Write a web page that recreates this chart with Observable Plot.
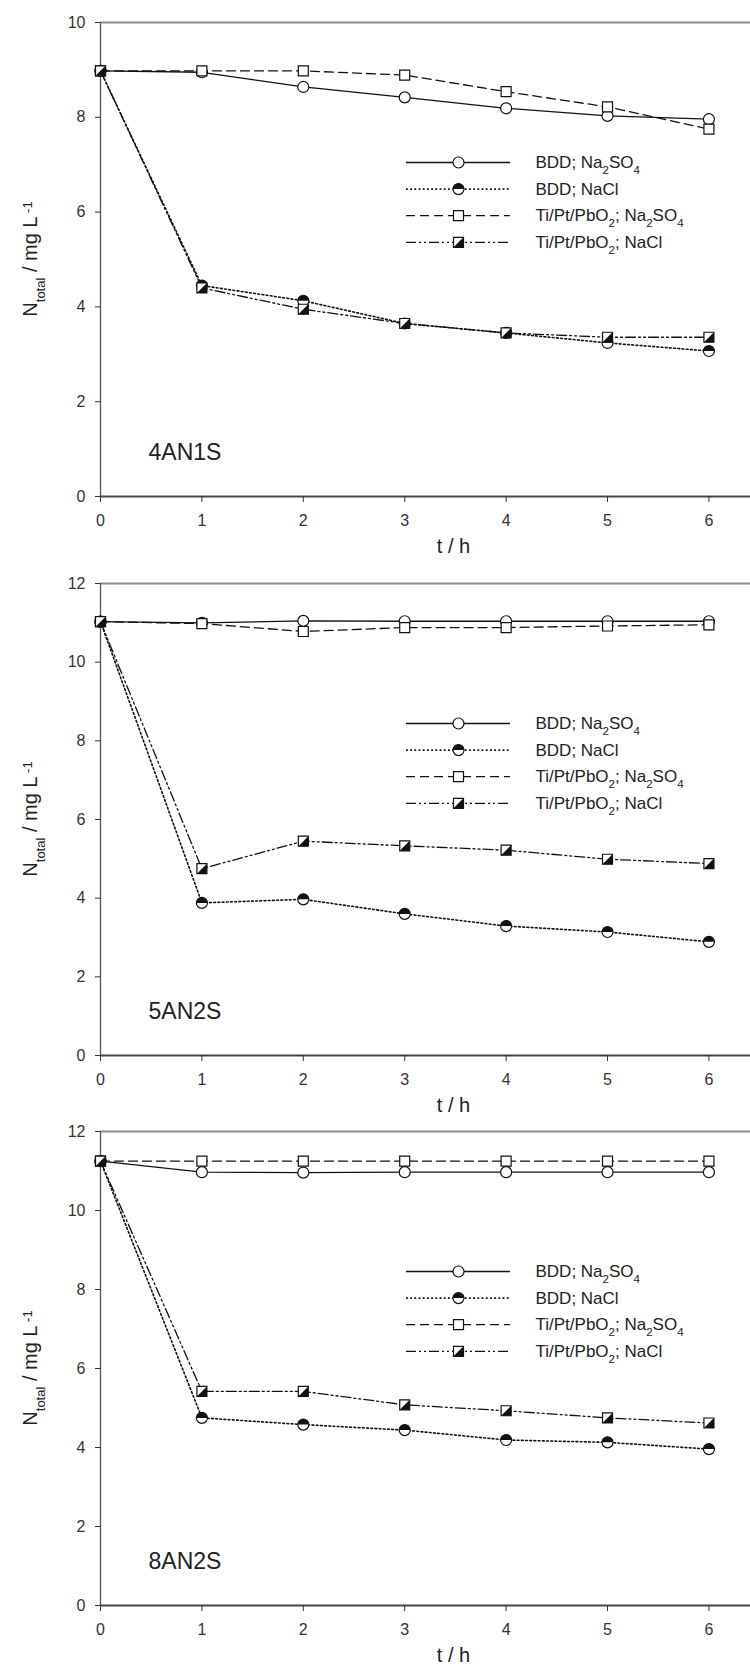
<!DOCTYPE html>
<html><head><meta charset="utf-8">
<script src="https://cdn.jsdelivr.net/npm/d3@7"></script>
<script src="https://cdn.jsdelivr.net/npm/@observablehq/plot@0.6"></script>
<style>
body{margin:0;background:#fff;width:750px;overflow:hidden}
svg{display:block}
</style></head><body><div id="chart"></div>
<script>
// ---- data ----
const time = [0, 1, 2, 3, 4, 5, 6];
const seriesNames = ["BDD; Na2SO4", "BDD; NaCl", "Ti/Pt/PbO2; Na2SO4", "Ti/Pt/PbO2; NaCl"];
const panelLabels = ["4AN1S", "5AN2S", "8AN2S"];
const yMaxes = [10, 12, 12];
const xTicks = [0, 1, 2, 3, 4, 5, 6];
const yTicksP1 = [0, 2, 4, 6, 8, 10];
const yTicksP23 = [0, 2, 4, 6, 8, 10, 12];

// Panel 1: 4AN1S
const p1_bdd_na2so4 = [8.98, 8.95, 8.64, 8.42, 8.19, 8.03, 7.96];
const p1_bdd_nacl   = [8.98, 4.45, 4.13, 3.65, 3.45, 3.24, 3.07];
const p1_ti_na2so4  = [8.98, 8.98, 8.98, 8.89, 8.54, 8.22, 7.75];
const p1_ti_nacl    = [8.98, 4.40, 3.95, 3.65, 3.45, 3.36, 3.36];
// Panel 2: 5AN2S
const p2_bdd_na2so4 = [11.03, 11.00, 11.05, 11.04, 11.04, 11.04, 11.04];
const p2_bdd_nacl   = [11.03, 3.88, 3.97, 3.60, 3.29, 3.14, 2.89];
const p2_ti_na2so4  = [11.03, 10.98, 10.78, 10.88, 10.88, 10.92, 10.95];
const p2_ti_nacl    = [11.03, 4.75, 5.45, 5.33, 5.22, 4.99, 4.88];
// Panel 3: 8AN2S
const p3_bdd_na2so4 = [11.25, 10.97, 10.96, 10.97, 10.97, 10.97, 10.97];
const p3_bdd_nacl   = [11.25, 4.75, 4.58, 4.44, 4.19, 4.13, 3.96];
const p3_ti_na2so4  = [11.25, 11.25, 11.25, 11.25, 11.25, 11.25, 11.25];
const p3_ti_nacl    = [11.25, 5.42, 5.42, 5.08, 4.93, 4.75, 4.62];

const panelSeries = [
  [p1_bdd_na2so4, p1_bdd_nacl, p1_ti_na2so4, p1_ti_nacl],
  [p2_bdd_na2so4, p2_bdd_nacl, p2_ti_na2so4, p2_ti_nacl],
  [p3_bdd_na2so4, p3_bdd_nacl, p3_ti_na2so4, p3_ti_nacl]
];
const panelYTicks = [yTicksP1, yTicksP23, yTicksP23];

// ---- symbols ----
const squareSym = {draw(ctx, size){const h = Math.sqrt(size/Math.PI); ctx.rect(-h, -h, 2*h, 2*h);}};
const halfCircle = {draw(ctx, size){const r = Math.sqrt(size/Math.PI); ctx.moveTo(-r, 0); ctx.arc(0, 0, r, Math.PI, 2*Math.PI); ctx.closePath();}};
const halfSquare = {draw(ctx, size){const h = Math.sqrt(size/Math.PI); ctx.moveTo(h, -h); ctx.lineTo(h, h); ctx.lineTo(-h, h); ctx.closePath();}};

const styles = [
  {dash: null, sym: "circle", r: 5.5, half: null, w: 1.3},
  {dash: "1.8,2.4", sym: "circle", r: 5.5, half: halfCircle, w: 1.6},
  {dash: "9,5", sym: squareSym, r: 5, half: null, w: 1.3},
  {dash: "10,3,2,3,2,3", sym: squareSym, r: 5, half: halfSquare, w: 1.3}
];

const INK = "#111";
const FONT = "'Liberation Sans', Arial, Helvetica, sans-serif";
const X_MAX = 6.41, M_LEFT = 100, WIDTH = 750;
const layouts = [
  {height: 565, marginTop: 22, marginBottom: 69},
  {height: 548, marginTop: 18, marginBottom: 58},
  {height: 559, marginTop: 18, marginBottom: 67}
];

function subify(sel) {
  sel.each(function(){
    const t = this.textContent;
    const el = d3.select(this);
    el.text(null);
    const parts = t.split(/(?<=[A-Za-z])(\d)/);
    parts.forEach((p, k) => {
      if (!p) return;
      if (k % 2 === 1) el.append("tspan").attr("baseline-shift", "sub").attr("font-size", "0.68em").text(p);
      else el.append("tspan").text(p);
    });
  });
}

function makePanel(pi) {
  const L = layouts[pi];
  const ymax = yMaxes[pi];
  const plotH = L.height - L.marginTop - L.marginBottom;
  const pxPerY = plotH / ymax;
  const pxPerX = (WIDTH - M_LEFT) / X_MAX;
  const px2x = px => (px - M_LEFT) / pxPerX;
  const rowY = i => ymax - (140 + i * 26.6) / pxPerY;

  const marks = [];
  // frame
  marks.push(Plot.ruleY([ymax], {stroke: "#8c8c8c", strokeWidth: 2}));
  marks.push(Plot.ruleX([0], {stroke: "#555", strokeWidth: 1.3}));
  marks.push(Plot.ruleY([0], {stroke: "#444", strokeWidth: 1.8}));
  marks.push(Plot.axisY({ticks: panelYTicks[pi], tickSize: 5, tickPadding: 10, label: null, fontSize: 16, tickFormat: d3.format("d")}));
  marks.push(Plot.axisX({ticks: xTicks, tickSize: 6, tickPadding: 12, label: null, fontSize: 16, tickFormat: d3.format("d")}));

  // series
  panelSeries[pi].forEach((vals, si) => {
    const st = styles[si];
    const data = time.map((t, k) => ({t, v: vals[k]}));
    marks.push(Plot.line(data, {x: "t", y: "v", stroke: INK, strokeWidth: st.w, strokeDasharray: st.dash}));
  });
  panelSeries[pi].forEach((vals, si) => {
    const st = styles[si];
    const data = time.map((t, k) => ({t, v: vals[k]}));
    marks.push(Plot.dot(data, {x: "t", y: "v", symbol: st.sym, r: st.r, fill: "white", stroke: INK, strokeWidth: 1.2}));
    if (st.half) marks.push(Plot.dot(data, {x: "t", y: "v", symbol: st.half, r: st.r, fill: INK, stroke: "none"}));
  });

  // legend
  seriesNames.forEach((name, si) => {
    const st = styles[si];
    const y = rowY(si);
    marks.push(Plot.ruleY([y], {x1: px2x(406), x2: px2x(510), stroke: INK, strokeWidth: st.w, strokeDasharray: st.dash}));
    const pt = [{t: px2x(458), v: y}];
    marks.push(Plot.dot(pt, {x: "t", y: "v", symbol: st.sym, r: st.r, fill: "white", stroke: INK, strokeWidth: 1.2}));
    if (st.half) marks.push(Plot.dot(pt, {x: "t", y: "v", symbol: st.half, r: st.r, fill: INK, stroke: "none"}));
    marks.push(Plot.text([name], {x: px2x(535), y, text: d => d, textAnchor: "start", fontSize: 17, fill: "#222", className: "lgd"}));
  });

  // panel label & x label
  marks.push(Plot.text([panelLabels[pi]], {text: d => d, frameAnchor: "bottom-left", dx: 48, dy: -37, textAnchor: "start", fontSize: 23, fill: "#222"}));
  marks.push(Plot.text(["t / h"], {text: d => d, frameAnchor: "bottom", dx: 28, dy: 56, fontSize: 20, fill: "#222"}));

  const svg = Plot.plot({
    width: WIDTH, height: L.height,
    marginTop: L.marginTop, marginBottom: L.marginBottom, marginLeft: M_LEFT, marginRight: 0,
    x: {domain: [0, X_MAX]},
    y: {domain: [0, ymax]},
    style: {fontFamily: FONT, fontSize: "16px", color: "#333", background: "white", overflow: "visible"},
    marks
  });

  subify(d3.select(svg).selectAll("g.lgd text"));

  // y-axis label with sub/superscript
  const midY = L.marginTop + plotH / 2;
  const t = d3.select(svg).append("text")
    .attr("transform", `translate(37,${midY}) rotate(-90)`)
    .attr("text-anchor", "middle")
    .attr("font-size", 20).attr("fill", "#222").attr("font-family", FONT);
  t.append("tspan").text("N");
  t.append("tspan").attr("baseline-shift", "sub").attr("font-size", "0.65em").text("total");
  t.append("tspan").text(" / mg L");
  t.append("tspan").attr("baseline-shift", "40%").attr("font-size", "0.65em").text(" -1");
  return svg;
}

const root = document.getElementById("chart");
for (let pi = 0; pi < 3; pi++) root.appendChild(makePanel(pi));
</script>
</body></html>
